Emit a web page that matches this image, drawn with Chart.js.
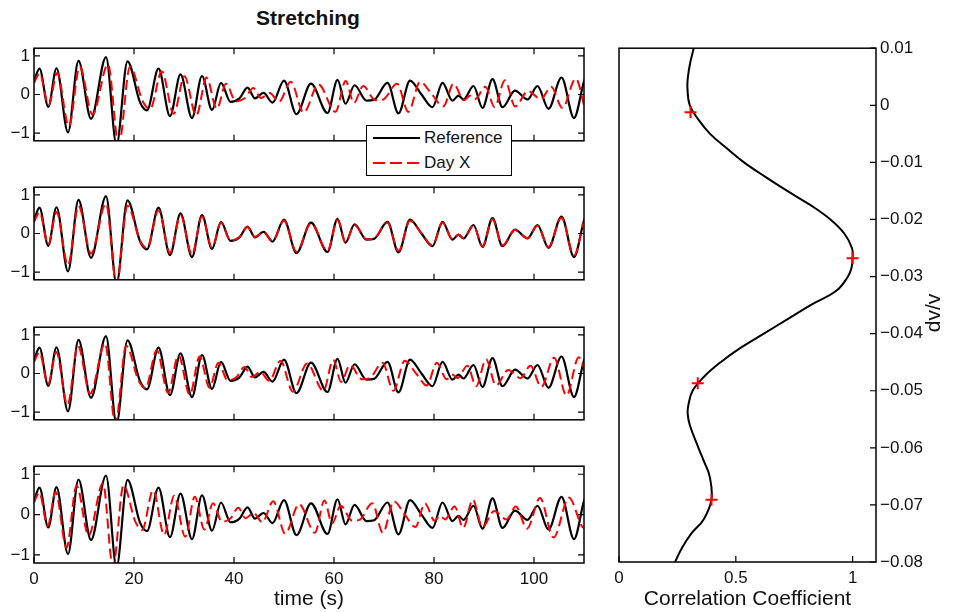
<!DOCTYPE html>
<html>
<head>
<meta charset="utf-8">
<script src="https://cdn.jsdelivr.net/npm/chart.js@4.4.1/dist/chart.umd.min.js"></script>
<style>
  body { margin: 0; background: #fff; width: 953px; height: 612px; position: relative; overflow: hidden; font-family: "Liberation Sans", Arial, sans-serif; color: #111; }
  canvas { position: absolute; }
  #title { position: absolute; left: 208px; top: 6px; width: 200px; text-align: center; font-weight: bold; font-size: 21px; }
  #legend { position: absolute; left: 366px; top: 125px; width: 144px; height: 49px; border: 1.5px solid #000; background: #fff; font-size: 17px; z-index: 5; }
  #legend .row { position: absolute; left: 6px; height: 20px; line-height: 20px; display: flex; align-items: center; }
  #legend .sample { width: 47px; height: 2px; margin-right: 4px; }
  #legend .solid { background: #000; }
  #legend .dashed { background: repeating-linear-gradient(to right, #f00 0 12px, transparent 12px 17px); }
</style>
</head>
<body>
<div id="title">Stretching</div>
<div id="legend">
  <div class="row" style="top:2px"><span class="sample solid"></span><span>Reference</span></div>
  <div class="row" style="top:27px"><span class="sample dashed"></span><span>Day X</span></div>
</div>
<canvas id="p1" width="600" height="121" style="left:0;top:34px"></canvas>
<canvas id="p2" width="600" height="121" style="left:0;top:173px"></canvas>
<canvas id="p3" width="600" height="121" style="left:0;top:313px"></canvas>
<canvas id="p4" width="600" height="160" style="left:0;top:452px"></canvas>
<canvas id="cc" width="353" height="578" style="left:600px;top:34px"></canvas>
<script>
// reference waveform, read as its turning points (time in s, amplitude)
const refTime = [0, 1.1, 2.85, 4.5, 6.8, 8.9, 11.4, 14.4, 16.5, 18.7, 21.2, 22.6, 24.9, 27.2, 29.3, 31.6, 33.6, 35.6, 37.4, 39.3,
  41.1, 42.7, 44.2, 45.9, 47.7, 50.0, 52.5, 55.4, 58.7, 60.7, 62.3, 64.1, 66.5, 68.0, 70.7, 72.9, 75.2, 77.5, 79.7, 81.7,
  83.7, 84.9, 85.9, 87.9, 89.7, 91.7, 93.7, 96.2, 98.7, 100.7, 102.9, 105.5, 108.0, 110.5, 113.0, 115.5];
const refAmp = [0.35, 0.67, -0.32, 0.68, -0.98, 0.87, -0.63, 0.97, -1.3, 0.86, -0.2, -0.41, 0.67, -0.56, 0.52, -0.61, 0.48, -0.40, 0.30, -0.19,
  -0.10, 0.18, -0.10, 0.04, -0.21, 0.36, -0.51, 0.28, -0.48, 0.38, -0.24, 0.24, -0.16, -0.14, 0.30, -0.49, 0.36, 0.0, -0.33, 0.30,
  -0.16, -0.03, -0.13, 0.22, -0.35, 0.40, -0.33, 0.10, -0.13, 0.22, -0.37, 0.44, -0.61, 0.45, -0.35, 0.40];

// Day X turning points: one amplitude list, its times as seen in each stretched panel
const dayXAmp = [0.30, 0.55, -0.28, 0.56, -0.82, 0.72, -0.52, 0.78, -1.3, 0.72, -0.18, -0.38, 0.60, -0.50, 0.47, -0.55, 0.44, -0.37, 0.28, -0.18,
  -0.09, 0.17, -0.09, 0.04, -0.19, 0.33, -0.47, 0.26, -0.45, 0.35, -0.22, 0.22, -0.15, -0.13, 0.28, -0.45, 0.33, 0.0, -0.31, 0.28,
  -0.15, -0.03, -0.12, 0.20, -0.33, 0.37, -0.31, 0.09, -0.12, 0.20, -0.35, 0.41, -0.57, 0.42, -0.33, 0.37];
const dayXTime1 = [0, 1.13, 2.93, 4.62, 6.98, 9.14, 11.71, 14.79, 16.95, 19.2, 21.77, 23.21, 25.57, 27.93, 30.09, 32.45, 34.51, 36.56, 38.41, 40.36,
  42.21, 43.85, 45.39, 47.14, 48.99, 51.35, 53.92, 56.9, 60.28, 62.34, 63.98, 65.83, 68.3, 69.84, 72.61, 74.87, 77.23, 79.59, 81.85, 83.91,
  85.96, 87.19, 88.22, 90.27, 92.12, 94.18, 96.23, 98.8, 101.36, 103.42, 105.68, 108.35, 110.92, 113.48, 116.05, 118.62];
const dayXTime2 = [0, 1.1, 2.85, 4.5, 6.8, 8.9, 11.4, 14.4, 16.5, 18.7, 21.2, 22.6, 24.9, 27.2, 29.3, 31.6, 33.6, 35.6, 37.4, 39.3,
  41.1, 42.7, 44.2, 45.9, 47.7, 50.0, 52.5, 55.4, 58.7, 60.7, 62.3, 64.1, 66.5, 68.0, 70.7, 72.9, 75.2, 77.5, 79.7, 81.7,
  83.7, 84.9, 85.9, 87.9, 89.7, 91.7, 93.7, 96.2, 98.7, 100.7, 102.9, 105.5, 108.0, 110.5, 113.0, 115.5];
const dayXTime3 = [0, 1.08, 2.81, 4.44, 6.7, 8.78, 11.24, 14.2, 16.27, 18.44, 20.9, 22.28, 24.55, 26.82, 28.89, 31.16, 33.13, 35.1, 36.88, 38.75,
  40.52, 42.1, 43.58, 45.26, 47.03, 49.3, 51.77, 54.62, 57.88, 59.85, 61.43, 63.2, 65.57, 67.05, 69.71, 71.88, 74.15, 76.42, 78.58, 80.56,
  82.53, 83.71, 84.7, 86.67, 88.44, 90.42, 92.39, 94.85, 97.32, 99.29, 101.46, 104.02, 106.49, 108.95, 111.42, 113.88];
const dayXTime4 = [0, 1.05, 2.73, 4.31, 6.51, 8.52, 10.91, 13.78, 15.79, 17.9, 20.29, 21.63, 23.83, 26.03, 28.04, 30.24, 32.16, 34.07, 35.79, 37.61,
  39.33, 40.86, 42.3, 43.93, 45.65, 47.85, 50.24, 53.02, 56.18, 58.09, 59.62, 61.34, 63.64, 65.08, 67.66, 69.77, 71.97, 74.17, 76.27, 78.19,
  80.1, 81.25, 82.21, 84.12, 85.84, 87.76, 89.67, 92.06, 94.46, 96.37, 98.6, 101.2, 103.9, 107.0, 110.0, 112.5];

// correlation coefficient against trial dv/v
const ccDvv = [0.01, 0.0075, 0.005, 0.003, 0.0, -0.0025, -0.005, -0.0075, -0.01, -0.0125, -0.015, -0.0175, -0.02, -0.0225, -0.025, -0.0268,
  -0.0285, -0.03, -0.0325, -0.035, -0.0375, -0.04, -0.0425, -0.045, -0.0475, -0.05, -0.0525, -0.054, -0.056, -0.06, -0.0625, -0.065,
  -0.069, -0.0725, -0.075, -0.0775, -0.08];
const ccCorr = [0.32, 0.305, 0.295, 0.293, 0.303, 0.34, 0.39, 0.46, 0.535, 0.625, 0.72, 0.82, 0.905, 0.965, 0.997, 1.0,
  0.995, 0.98, 0.93, 0.82, 0.72, 0.62, 0.52, 0.435, 0.365, 0.315, 0.297, 0.294, 0.303, 0.34, 0.365, 0.388,
  0.396, 0.363, 0.31, 0.27, 0.24];
// the four trial stretches shown on the left
const trialDvv = [-0.0012, -0.0268, -0.0487, -0.0691];
const trialCorr = [0.306, 1.0, 0.337, 0.396];

// tick labels
const timeTicks = [0, 20, 40, 60, 80, 100];
const ampTicks = [-1, 0, 1];
const ccTicks = [0, 0.5, 1];
const dvvTicks = [0.01, 0, -0.01, -0.02, -0.03, -0.04, -0.05, -0.06, -0.07, -0.08];

const FONT = '"Liberation Sans", Arial, sans-serif';
const INK = '#111';
const fmt = v => (Math.abs(v) < 1e-9 ? '0' : String(+v.toFixed(3))).replace('-', '\u2212');
const pts = (xs, ys) => xs.map((x, i) => ({ x: x, y: ys[i] }));
const setTicks = list => scale => { scale.ticks = list.map(v => ({ value: v })); };

// matlab style box with ticks pointing inwards
const boxTicks = {
  id: 'boxTicks',
  afterDatasetsDraw(chart, args, opts) {
    const { ctx, chartArea: a, scales } = chart;
    const len = 6;
    ctx.save();
    ctx.strokeStyle = '#000';
    ctx.lineWidth = 1.2;
    ctx.beginPath();
    scales.x.ticks.forEach(t => {
      const px = scales.x.getPixelForValue(t.value);
      if (opts.bottom) { ctx.moveTo(px, a.bottom); ctx.lineTo(px, a.bottom - len); }
      if (opts.top) { ctx.moveTo(px, a.top); ctx.lineTo(px, a.top + len); }
    });
    scales.y.ticks.forEach(t => {
      const py = scales.y.getPixelForValue(t.value);
      if (opts.left) { ctx.moveTo(a.left, py); ctx.lineTo(a.left + len, py); }
      if (opts.right) { ctx.moveTo(a.right, py); ctx.lineTo(a.right - len, py); }
    });
    ctx.stroke();
    ctx.lineWidth = 1.5;
    ctx.strokeRect(a.left, a.top, a.right - a.left, a.bottom - a.top);
    if (opts.yTitle) {
      ctx.translate(opts.yTitle.x, opts.yTitle.y);
      ctx.rotate(-Math.PI / 2);
      ctx.fillStyle = INK;
      ctx.font = '21px ' + FONT;
      ctx.textAlign = 'center';
      ctx.textBaseline = 'middle';
      ctx.fillText(opts.yTitle.text, 0, 0);
    }
    ctx.restore();
  }
};

function makePanel(id, dayXTime, bottomPanel) {
  new Chart(document.getElementById(id), {
    type: 'scatter',
    data: {
      datasets: [
        {
          label: 'Day X',
          data: pts(dayXTime, dayXAmp),
          showLine: true,
          borderColor: '#ff0000',
          borderWidth: 2,
          borderDash: [10, 5],
          pointRadius: 0,
          cubicInterpolationMode: 'monotone',
          order: 0
        },
        {
          label: 'Reference',
          data: pts(refTime, refAmp),
          showLine: true,
          borderColor: '#000',
          borderWidth: 2.2,
          pointRadius: 0,
          cubicInterpolationMode: 'monotone',
          order: 1
        }
      ]
    },
    options: {
      responsive: false,
      animation: false,
      events: [],
      devicePixelRatio: 1,
      layout: { padding: { top: 10, right: 16, left: 0, bottom: 0 } },
      plugins: {
        legend: { display: false },
        tooltip: { enabled: false },
        boxTicks: { top: true, bottom: true, left: true, right: true }
      },
      scales: {
        x: {
          type: 'linear', min: 0, max: 110,
          grid: { display: false, drawTicks: false },
          border: { display: false },
          afterBuildTicks: setTicks(timeTicks),
          afterFit: s => { s.height = bottomPanel ? 49 : 10; },
          ticks: { display: bottomPanel, autoSkip: false, maxRotation: 0, padding: 6, color: INK, font: { family: FONT, size: 17 }, callback: fmt },
          title: { display: bottomPanel, text: 'time (s)', color: INK, padding: 0, font: { family: FONT, size: 21 } }
        },
        y: {
          type: 'linear', min: -1.2, max: 1.2,
          grid: { display: false, drawTicks: false },
          border: { display: false },
          afterBuildTicks: setTicks(ampTicks),
          afterFit: s => { s.width = 34; },
          ticks: { padding: 4, color: INK, font: { family: FONT, size: 17 }, callback: fmt }
        }
      }
    },
    plugins: [boxTicks]
  });
}

makePanel('p1', dayXTime1, false);
makePanel('p2', dayXTime2, false);
makePanel('p3', dayXTime3, false);
makePanel('p4', dayXTime4, true);

new Chart(document.getElementById('cc'), {
  type: 'scatter',
  data: {
    datasets: [
      {
        label: 'trials',
        data: pts(trialCorr, trialDvv),
        pointStyle: 'cross',
        pointRadius: 6,
        borderColor: '#ff0000',
        borderWidth: 2,
        order: 0
      },
      {
        label: 'cc',
        data: pts(ccCorr, ccDvv),
        showLine: true,
        tension: 0.4,
        borderColor: '#000',
        borderWidth: 2,
        pointRadius: 0,
        order: 1
      }
    ]
  },
  options: {
    responsive: false,
    animation: false,
    events: [],
    devicePixelRatio: 1,
    layout: { padding: { top: 10, right: 0, left: 19, bottom: 0 } },
    plugins: {
      legend: { display: false },
      tooltip: { enabled: false },
      boxTicks: { bottom: true, right: true, yTitle: { text: 'dv/v', x: 334, y: 279 } }
    },
    scales: {
      x: {
        type: 'linear', min: 0, max: 1.1,
        grid: { display: false, drawTicks: false },
        border: { display: false },
        afterBuildTicks: setTicks(ccTicks),
        afterFit: s => { s.height = 50; },
        ticks: { autoSkip: false, maxRotation: 0, padding: 6, color: INK, font: { family: FONT, size: 17 }, callback: fmt },
        title: { display: true, text: 'Correlation Coefficient', color: INK, padding: 0, font: { family: FONT, size: 21 } }
      },
      y: {
        type: 'linear', position: 'right', min: -0.08, max: 0.01,
        grid: { display: false, drawTicks: false },
        border: { display: false },
        afterBuildTicks: setTicks(dvvTicks),
        afterFit: s => { s.width = 77; },
        ticks: { padding: 4, color: INK, font: { family: FONT, size: 17 }, callback: fmt }
      }
    }
  },
  plugins: [boxTicks]
});
</script>
</body>
</html>
